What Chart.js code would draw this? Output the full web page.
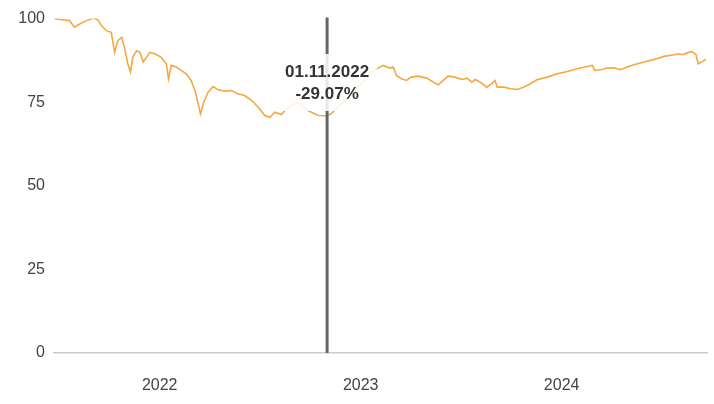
<!DOCTYPE html>
<html>
<head>
<meta charset="utf-8">
<script src="https://cdn.jsdelivr.net/npm/chart.js@4"></script>
<style>
  html, body { margin: 0; padding: 0; background: #fff; }
  #wrap { width: 714px; height: 404px; position: relative; }
</style>
</head>
<body>
<div id="wrap"><canvas id="myChart"></canvas></div>
<script>
// Dates of the read points and the indexed value (start = 100)
const dates = [
  '2021-06-24','2021-07-12','2021-07-21','2021-07-30','2021-08-11','2021-08-21','2021-09-02','2021-09-11',
  '2021-09-17','2021-09-26','2021-10-05','2021-10-11','2021-10-17','2021-10-24','2021-10-29','2021-11-04',
  '2021-11-09','2021-11-13','2021-11-20','2021-11-26','2021-12-02','2021-12-08','2021-12-14','2021-12-23',
  '2022-01-04','2022-01-13','2022-01-17','2022-01-22','2022-01-31','2022-02-09','2022-02-18','2022-02-27',
  '2022-03-06','2022-03-12','2022-03-16','2022-03-22','2022-03-30','2022-04-08','2022-04-17','2022-04-29',
  '2022-05-11','2022-05-23','2022-06-04','2022-06-17','2022-06-29','2022-07-11','2022-07-20','2022-07-29',
  '2022-08-10','2022-08-22','2022-09-09','2022-09-27','2022-10-16','2022-11-01','2022-11-09','2022-11-24',
  '2022-12-13','2022-12-30','2023-01-18','2023-02-11','2023-02-23','2023-03-01','2023-03-07','2023-03-16',
  '2023-03-25','2023-04-03','2023-04-15','2023-05-01','2023-05-13','2023-05-22','2023-05-31','2023-06-09',
  '2023-06-21','2023-07-04','2023-07-13','2023-07-22','2023-07-28','2023-08-06','2023-08-18','2023-08-27',
  '2023-09-02','2023-09-06','2023-09-18','2023-09-30','2023-10-12','2023-10-24','2023-11-05','2023-11-17',
  '2023-12-06','2023-12-24','2024-01-11','2024-01-29','2024-02-16','2024-02-26','2024-03-01','2024-03-12',
  '2024-03-24','2024-04-05','2024-04-17','2024-04-29','2024-05-11','2024-05-30','2024-06-17','2024-07-05',
  '2024-07-23','2024-08-01','2024-08-07','2024-08-19','2024-08-25','2024-09-01','2024-09-05','2024-09-13',
  '2024-09-19'
];
const values = [
  100.0, 99.6, 99.4, 97.4, 98.6, 99.4, 100.2, 99.6,
  97.9, 96.4, 95.9, 89.9, 93.4, 94.4, 91.4, 86.5,
  84.0, 88.4, 90.4, 89.9, 87.0, 88.4, 89.9, 89.5,
  88.4, 86.5, 82.0, 86.0, 85.5, 84.5, 83.5, 81.5,
  78.5, 74.5, 71.5, 75.0, 78.0, 79.7, 78.7, 78.3,
  78.5, 77.5, 77.0, 75.5, 73.5, 71.0, 70.5, 72.0,
  71.3, 73.5, 75.0, 72.5, 71.0, 70.93, 71.6, 74.0,
  77.0, 80.0, 83.9, 86.0, 85.2, 85.5, 83.0, 82.0,
  81.5, 82.5, 82.8, 82.2, 81.0, 80.2, 81.5, 82.8,
  82.5, 81.8, 82.2, 81.0, 81.8, 81.0, 79.5, 80.5,
  81.5, 79.5, 79.5, 79.0, 78.8, 79.5, 80.5, 81.7,
  82.5, 83.5, 84.2, 85.0, 85.7, 86.0, 84.5, 84.7,
  85.2, 85.3, 84.7, 85.5, 86.2, 87.0, 87.8, 88.7,
  89.2, 89.5, 89.2, 89.9, 90.1, 89.2, 86.5, 87.2,
  87.8
];
const yearTicks = ['2022-01-01', '2023-01-01', '2024-01-01'];
const yTicks = [0, 25, 50, 75, 100];
const markerDate = '2022-11-01';
const markerLabel = ['01.11.2022', '-29.07%'];

const DAY = 86400000;
const toTime = s => Date.parse(s + 'T00:00:00Z');
const points = dates.map((d, i) => ({ x: toTime(d), y: values[i] }));

// vertical marker with its label box
const markerPlugin = {
  id: 'marker',
  afterDatasetsDraw(chart) {
    const { ctx, chartArea, scales } = chart;
    const x = scales.x.getPixelForValue(toTime(markerDate));
    ctx.save();
    ctx.strokeStyle = '#666666';
    ctx.lineWidth = 3;
    ctx.beginPath();
    ctx.moveTo(x, chartArea.top - 1);
    ctx.lineTo(x, chartArea.bottom);
    ctx.stroke();

    ctx.fillStyle = 'rgba(255,255,255,0.85)';
    ctx.fillRect(x - 50, 54, 100, 57);

    ctx.fillStyle = '#333333';
    ctx.font = 'bold 17px "Liberation Sans", Arial, sans-serif';
    ctx.textAlign = 'center';
    ctx.textBaseline = 'middle';
    ctx.fillText(markerLabel[0], x, 72);
    ctx.fillText(markerLabel[1], x, 94);
    ctx.restore();
  }
};

new Chart(document.getElementById('myChart').getContext('2d'), {
  type: 'line',
  data: {
    datasets: [{
      data: points,
      borderColor: '#f5a742',
      borderWidth: 1.6,
      pointRadius: 0,
      tension: 0,
      fill: false
    }]
  },
  options: {
    responsive: true,
    maintainAspectRatio: false,
    animation: false,
    layout: { padding: { top: 18, right: 7, left: 0, bottom: 0 } },
    plugins: { legend: { display: false }, tooltip: { enabled: false } },
    scales: {
      x: {
        type: 'linear',
        min: toTime(dates[0]) - DAY,
        max: toTime(dates[dates.length - 1]) + 2 * DAY,
        grid: { display: false, drawTicks: false },
        border: { display: true, color: '#cccccc', width: 1.5 },
        afterBuildTicks: scale => { scale.ticks = yearTicks.map(t => ({ value: toTime(t) })); },
        afterFit: scale => { scale.height = 51; },
        ticks: {
          padding: 23,
          maxRotation: 0,
          color: '#444444',
          font: { family: '"Liberation Sans", Arial, sans-serif', size: 16 },
          callback: v => new Date(v).getUTCFullYear()
        }
      },
      y: {
        min: 0,
        max: 100,
        grid: { display: false, drawTicks: false },
        border: { display: false },
        afterBuildTicks: scale => { scale.ticks = yTicks.map(v => ({ value: v })); },
        afterFit: scale => { scale.width = 54; },
        ticks: {
          padding: 9,
          color: '#444444',
          font: { family: '"Liberation Sans", Arial, sans-serif', size: 16 }
        }
      }
    }
  },
  plugins: [markerPlugin]
});
</script>
</body>
</html>
